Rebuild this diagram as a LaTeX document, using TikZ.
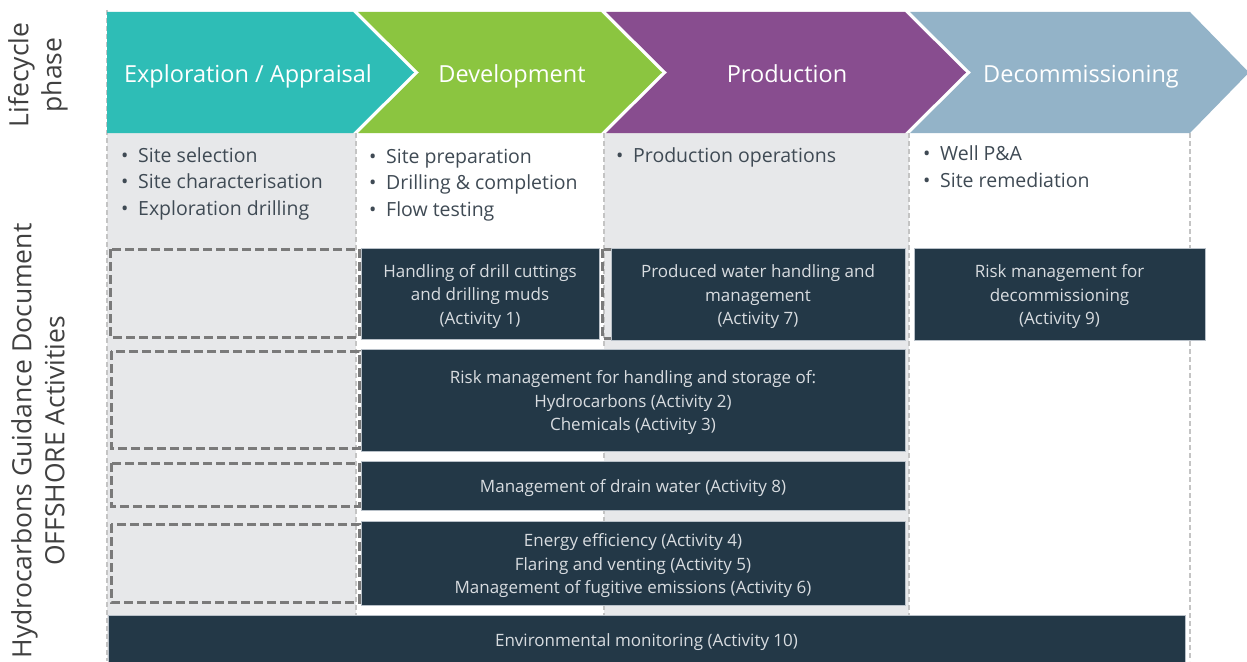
\documentclass[tikz,border=0pt]{standalone}
\usepackage{fontspec}
\setmainfont{Open Sans}
\definecolor{tealc}{HTML}{2EBDB6}
\definecolor{greenc}{HTML}{8BC540}
\definecolor{purplec}{HTML}{884D8F}
\definecolor{bluec}{HTML}{93B3C8}
\definecolor{colgray}{HTML}{E7E8EA}
\definecolor{darkbox}{HTML}{233847}
\definecolor{boxedge}{HTML}{B8C0C8}
\definecolor{dashgray}{HTML}{7A7A7A}
\definecolor{linegray}{HTML}{C4C4C4}
\definecolor{txtgray}{HTML}{3F4A54}
\definecolor{boxtxt}{HTML}{D8DCE0}
\definecolor{lbltxt}{HTML}{404040}
\begin{document}
\begin{tikzpicture}[x=1pt,y=-1pt,
  coldash/.style={draw=linegray, line width=1.2pt, dash pattern=on 5pt off 3pt},
  dbox/.style={draw=dashgray, line width=3pt, dash pattern=on 9pt off 4pt},
  actbox/.style={fill=darkbox, draw=boxedge, line width=0.6pt,
    inner sep=0pt, outer sep=0pt},
  acttext/.style={text=boxtxt, inner sep=0pt, align=center,
    font=\fontsize{17}{23.5}\selectfont},
  chevlabel/.style={anchor=base, text=white, inner sep=0pt, font=\fontsize{23.5}{28}\selectfont},
  bul/.style={anchor=base west, inner sep=0pt, text=txtgray, font=\fontsize{19.5}{26}\selectfont},
  sidelabel/.style={rotate=90, text=lbltxt, align=center, inner sep=0pt,
    font=\fontsize{26.5}{33}\selectfont}
]
\useasboundingbox (0,0) rectangle (1247,661);
\fill[white] (0,0) rectangle (1247,661);

% column backgrounds
\fill[colgray] (107,133) rectangle (356,661);
\fill[colgray] (604,133) rectangle (909,661);
\draw[coldash] (107,10) -- (107,661);
\draw[coldash] (356,133) -- (356,661);
\draw[coldash] (604,133) -- (604,661);
\draw[coldash] (909,133) -- (909,661);
\draw[coldash] (1190,133) -- (1190,661);

% chevrons
\fill[tealc] (107,12) -- (353,12) -- (414,72.5) -- (353,133) -- (107,133) -- cycle;
\fill[greenc] (358,12) -- (601,12) -- (662,72.5) -- (601,133) -- (358,133) -- (419,72.5) -- cycle;
\fill[purplec] (606,12) -- (905,12) -- (966,72.5) -- (905,133) -- (606,133) -- (667,72.5) -- cycle;
\fill[bluec] (910,12) -- (1190,12) -- (1249,72.5) -- (1190,133) -- (910,133) -- (971,72.5) -- cycle;

\node[chevlabel] (ch1) at (248,82) {Exploration / Appraisal};
\node[chevlabel] (ch2) at (512,82) {Development};
\node[chevlabel] (ch3) at (787,82) {Production};
\node[chevlabel] (ch4) at (1081,82) {Decommissioning};

% side labels
\node[sidelabel] (lbl1) at (38,75) {Lifecycle\\phase};
\node[sidelabel] (lbl2) at (38,441) {Hydrocarbons Guidance Document\\OFFSHORE Activities};

% bullet lists
\node[bul] (b11) at (121,162) {\makebox[17pt][l]{•}Site selection};
\node[bul] (b12) at (121,188.5) {\makebox[17pt][l]{•}Site characterisation};
\node[bul] (b13) at (121,215) {\makebox[17pt][l]{•}Exploration drilling};
\node[bul] (b21) at (369,163) {\makebox[17pt][l]{•}Site preparation};
\node[bul] (b22) at (369,189.5) {\makebox[17pt][l]{•}Drilling \& completion};
\node[bul] (b23) at (369,216) {\makebox[17pt][l]{•}Flow testing};
\node[bul] (b31) at (616,162) {\makebox[17pt][l]{•}Production operations};
\node[bul] (b41) at (923,160) {\makebox[17pt][l]{•}Well P\&A};
\node[bul] (b42) at (923,187) {\makebox[17pt][l]{•}Site remediation};

% dashed placeholder boxes
\draw[dbox] (110,249) rectangle (359,337);
\draw[dbox] (111,351) rectangle (359,448);
\draw[dbox] (111,463) rectangle (359,506);
\draw[dbox] (111,524) rectangle (359,602);
\draw[dbox] (602,249) rectangle (616,338);

% activity boxes
\node[actbox, minimum width=238pt, minimum height=91pt] (a1) at (480,293.5) {};
\node[acttext] (a1t) at ([yshift=-3pt]a1.center) {Handling of drill cuttings\\and drilling muds\\(Activity 1)};
\node[actbox, minimum width=294pt, minimum height=92pt] (a7) at (758,294) {};
\node[acttext] (a7t) at ([yshift=-3pt]a7.center) {Produced water handling and\\management\\(Activity 7)};
\node[actbox, minimum width=291pt, minimum height=92pt] (a9) at (1059.5,294) {};
\node[acttext] (a9t) at ([yshift=-3pt]a9.center) {Risk management for\\decommissioning\\(Activity 9)};
\node[actbox, minimum width=544pt, minimum height=102pt] (a23) at (633,400) {};
\node[acttext] (a23t) at ([yshift=-3pt]a23.center) {Risk management for handling and storage of:\\Hydrocarbons (Activity 2)\\Chemicals (Activity 3)};
\node[actbox, minimum width=544pt, minimum height=49pt] (a8) at (633,485.5) {};
\node[acttext] (a8t) at ([yshift=-3pt]a8.center) {Management of drain water (Activity 8)};
\node[actbox, minimum width=544pt, minimum height=84pt] (a456) at (633,563) {};
\node[acttext] (a456t) at ([yshift=-3pt]a456.center) {Energy efficiency (Activity 4)\\Flaring and venting (Activity 5)\\Management of fugitive emissions (Activity 6)};
\node[actbox, minimum width=1077pt, minimum height=50pt] (a10) at (646.5,640) {};
\node[acttext] (a10t) at ([yshift=-2pt]a10.center) {Environmental monitoring (Activity 10)};
\end{tikzpicture}
\end{document}
